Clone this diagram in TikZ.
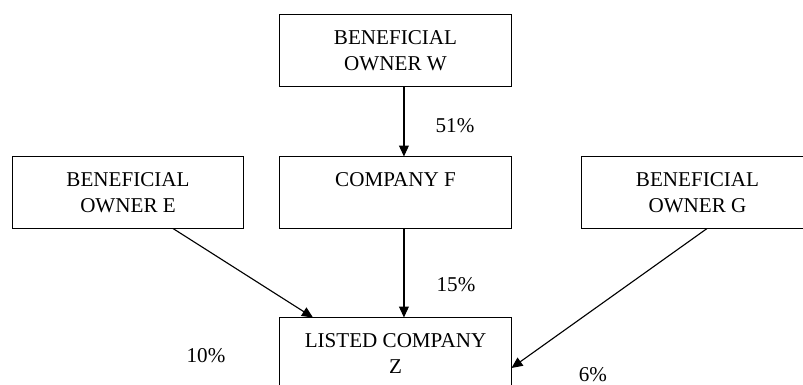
\documentclass[tikz,border=0pt]{standalone}
\usepackage{fontspec}
\setmainfont{Liberation Serif}
\usetikzlibrary{arrows.meta}

\begin{document}
\begin{tikzpicture}[x=0.025cm, y=-0.025cm,
  box/.style={draw, line width=0.7pt, minimum width=5.775cm, minimum height=1.775cm,
    align=center, font=\fontsize{15}{18.5}\selectfont},
  pct/.style={font=\fontsize{15}{18.5}\selectfont},
  link/.style={line width=0.8pt, -{Triangle[length=7.8pt,width=7pt]}}]

  \clip (0,0) rectangle (803,385);

  \node[box] (W) at (395.5,50.5) {BENEFICIAL\\OWNER W};
  \node[box] (F) at (395.5,192.5) {COMPANY F\\\mbox{}};
  \node[box] (E) at (128,192.5) {BENEFICIAL\\OWNER E};
  \node[box] (G) at (697.5,192.5) {BENEFICIAL\\OWNER G};
  \node[box] (Z) at (395.5,353.5) {LISTED COMPANY\\Z};

  \draw[link] ([xshift=6pt]W.south) -- ([xshift=6pt]F.north);
  \draw[link] ([xshift=6pt]F.south) -- ([xshift=6pt]Z.north);
  \draw[link] ([xshift=32pt]E.south) -- ([xshift=-58.7pt]Z.north);
  \draw[link] ([xshift=6.8pt]G.south) -- ([yshift=-10.3pt]Z.east);

  \node[pct] (pW) at (455,126) {51\%};
  \node[pct] (pF) at (456,285) {15\%};
  \node[pct] (pE) at (206,356) {10\%};
  \node[pct] (pG) at (593,375) {6\%};

\end{tikzpicture}
\end{document}
